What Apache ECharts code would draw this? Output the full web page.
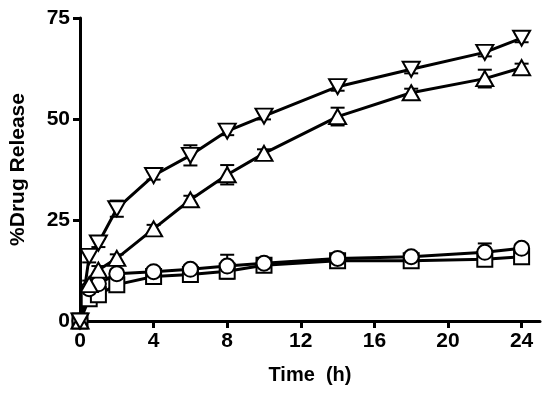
<!DOCTYPE html>
<html>
<head>
<meta charset="utf-8">
<script src="https://cdn.jsdelivr.net/npm/echarts@6/dist/echarts.min.js"></script>
<style>html,body{margin:0;padding:0;background:#fff}#c{width:550px;height:395px}</style>
</head>
<body>
<div id="c"></div>
<script>
var times = [0, 0.5, 1, 2, 4, 6, 8, 10, 14, 18, 22, 24];
var xTicks = [0, 4, 8, 12, 16, 20, 24];
var yTicks = [0, 25, 50, 75];
var downTri = [0, 16, 19.3, 27.8, 36, 41, 47, 50.7, 58, 62.3, 66.5, 70];
var downErr = [0, 1.5, 1, 2, 1, 2.5, 1, 0.8, 1, 1, 1, 1];
var upTri = [0, 9, 12.6, 15.5, 22.8, 30, 36.2, 41.5, 50.6, 56.5, 60, 62.7];
var upErr = [0, 1, 1, 1, 1, 1, 2.4, 1, 2.2, 1, 2.2, 1];
var circle = [0, 8, 9.2, 11.7, 12.2, 12.8, 13.6, 14.3, 15.5, 15.9, 17, 18];
var circleErr = [0, 1, 1, 1, 1, 1, 2.8, 1, 1, 1, 2.2, 1];
var square = [0, 5.5, 6.5, 9, 11, 11.5, 12.3, 13.8, 14.9, 14.9, 15.3, 15.9];
var squareErr = [0, 1, 1, 1, 1, 1, 1.8, 1, 1, 1, 1, 1];

var FONT = "'Liberation Sans', Arial, sans-serif";

function pairs(vals) { return times.map(function (t, i) { return [t, vals[i]]; }); }
function errData(vals, errs) { return times.map(function (t, i) { return [t, vals[i], errs[i]]; }); }

function errSeries(vals, errs) {
  return {
    type: 'custom',
    data: errData(vals, errs),
    encode: { x: 0, y: 1 },
    z: 1,
    silent: true,
    clip: false,
    renderItem: function (params, api) {
      var x = api.value(0), y = api.value(1), e = api.value(2);
      var top = api.coord([x, y + e]);
      var bot = api.coord([x, y - e]);
      var w = 7;
      var st = { stroke: '#000', lineWidth: 2, fill: null };
      return {
        type: 'group',
        children: [
          { type: 'line', shape: { x1: top[0], y1: top[1], x2: bot[0], y2: bot[1] }, style: st },
          { type: 'line', shape: { x1: top[0] - w, y1: top[1], x2: top[0] + w, y2: top[1] }, style: st },
          { type: 'line', shape: { x1: bot[0] - w, y1: bot[1], x2: bot[0] + w, y2: bot[1] }, style: st }
        ]
      };
    }
  };
}

function lineSeries(vals, symbol, size, rotate) {
  return {
    type: 'line',
    data: pairs(vals),
    symbol: symbol,
    symbolSize: size,
    symbolRotate: rotate || 0,
    showAllSymbol: true,
    clip: false,
    z: 3,
    lineStyle: { color: '#000', width: 3 },
    itemStyle: { color: '#fff', borderColor: '#000', borderWidth: 2 },
    emphasis: { disabled: true },
    animation: false
  };
}

var chart = echarts.init(document.getElementById('c'));
chart.setOption({
  animation: false,
  backgroundColor: '#fff',
  grid: { left: 77, right: 10, top: 18, bottom: 74 },
  xAxis: {
    type: 'value', min: 0, max: 25,
    name: 'Time  (h)', nameLocation: 'middle', nameGap: 44,
    nameTextStyle: { fontFamily: FONT, fontWeight: 'bold', fontSize: 20, color: '#000' },
    axisLine: { show: true, lineStyle: { color: '#000', width: 3 } },
    axisTick: { show: true, length: 7, lineStyle: { color: '#000', width: 3 }, customValues: xTicks },
    axisLabel: { margin: 10, fontFamily: FONT, fontWeight: 'bold', fontSize: 21, color: '#000', customValues: xTicks },
    splitLine: { show: false }
  },
  yAxis: {
    type: 'value', min: 0, max: 75, interval: 25,
    name: '%Drug Release', nameLocation: 'middle', nameGap: 51,
    nameTextStyle: { fontFamily: FONT, fontWeight: 'bold', fontSize: 21, color: '#000' },
    axisLine: { show: true, lineStyle: { color: '#000', width: 3 } },
    axisTick: { show: true, length: 7, lineStyle: { color: '#000', width: 3 }, customValues: yTicks },
    axisLabel: { margin: 10, fontFamily: FONT, fontWeight: 'bold', fontSize: 21, color: '#000', customValues: yTicks },
    splitLine: { show: false }
  },
  series: [
    errSeries(square, squareErr),
    errSeries(circle, circleErr),
    errSeries(upTri, upErr),
    errSeries(downTri, downErr),
    lineSeries(square, 'rect', 15),
    lineSeries(circle, 'circle', 15),
    lineSeries(upTri, 'triangle', [17, 15]),
    lineSeries(downTri, 'triangle', [17, 15], 180)
  ]
});
</script>
</body>
</html>
